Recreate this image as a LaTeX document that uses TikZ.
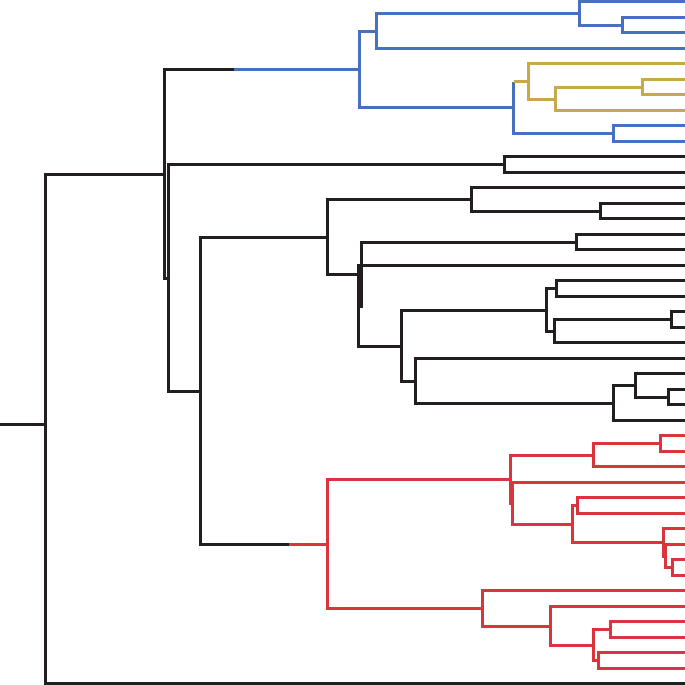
\documentclass[tikz,border=0pt]{standalone}
\usepackage{tikz}
\usetikzlibrary{calc}

\definecolor{treeblack}{RGB}{35,31,32}
\definecolor{treeblue}{RGB}{72,112,192}
\definecolor{treegold}{RGB}{200,168,76}
\definecolor{treered}{RGB}{218,52,60}

\begin{document}
\begin{tikzpicture}[x=1pt, y=-1pt, branch/.style={line width=3pt},
    blk/.style={draw=treeblack}, blu/.style={draw=treeblue},
    gld/.style={draw=treegold}, rd/.style={draw=treered}]
    \useasboundingbox (0,0) rectangle (685,685);
    % tips
    \foreach \i in {1,...,45}
        \coordinate (l\i) at (685,{floor(1.5+(\i-1)*15.5)+0.5});
    % blue and gold clades
    \foreach \cl/\px/\a/\b/\s in {B/622/l2/l3/blu, A/579/l1/B/blu, C/376/A/l4/blu,
        F/613/l9/l10/blu, G1/642/l6/l7/gld, G2/555/G1/l8/gld, G3/528/l5/G2/gld}
    {
        \path let \p1 = ($(\a)!0.5!(\b)$), \n1 = {-round(-\y1-0.5)-0.5}, \n2 = {\px+0.5}
            in coordinate (\cl) at (\n2 pt,\n1);
        \draw[branch,\s] (\cl) |- (\a) (\cl) |- (\b);
    }
    \path let \p1 = ($(G3)!0.5!(F)$), \n1 = {-round(-\y1-0.5)-0.5} in coordinate (E) at (513.5pt,\n1);
    \path let \p1 = (G3) in coordinate (Gcut) at (513.5pt,\y1);
    \draw[branch,blu] (E) -- (Gcut) (E) |- (F);
    \draw[branch,gld] (Gcut) -- (G3);
    % remaining clades
    \foreach \cl/\px/\a/\b/\s in {D/359/C/E/blu,
        H/504/l11/l12/blk, J/600/l14/l15/blk, I/471/l13/J/blk, M/576/l16/l17/blk,
        P1/556/l19/l20/blk, P3/671/l21/l22/blk, P2/554/P3/l23/blk, P/546/P1/P2/blk,
        U/668/l26/l27/blk, T/635/l25/U/blk, S/613/T/l28/blk, R/415/l24/S/blk,
        N/401/P/R/blk, L2/358/l18/N/blk, L/361/M/L2/blk, K/327/I/L/blk,
        Zd/660/l29/l30/rd, Zb/593/Zd/l31/rd, Ze/577/l33/l34/rd, Zg/672/l37/l38/rd,
        Zf2/665/l36/Zg/rd, Zf/663/l35/Zf2/rd, Zc/572/Ze/Zf/rd, Z1a/512/l32/Zc/rd,
        Z1/510/Zb/Z1a/rd, Zj/610/l41/l42/rd, Zk/598/l43/l44/rd, Zi/593/Zj/Zk/rd,
        Zh/550/l40/Zi/rd, Z2/482/l39/Zh/rd, Z/327/Z1/Z2/rd}
    {
        \path let \p1 = ($(\a)!0.5!(\b)$), \n1 = {-round(-\y1-0.5)-0.5}, \n2 = {\px+0.5}
            in coordinate (\cl) at (\n2 pt,\n1);
        \draw[branch,\s] (\cl) |- (\a) (\cl) |- (\b);
    }
    % backbone
    \path let \p1 = ($(K)!0.5!(Z)$), \n1 = {-round(-\y1-0.5)-0.5} in coordinate (Y) at (200.5pt,\n1);
    \path let \p1 = (Z) in coordinate (Zcut) at (288.5pt,\y1);
    \draw[branch,blk] (Y) |- (K) (Y) |- (Zcut);
    \draw[branch,rd] (Zcut) -- (Z);
    \path let \p1 = ($(H)!0.5!(Y)$), \n1 = {-round(-\y1-0.5)-0.5} in coordinate (X1) at (168.5pt,\n1);
    \draw[branch,blk] (X1) |- (H) (X1) |- (Y);
    \path let \p1 = ($(D)!0.5!(X1)$), \n1 = {-round(-\y1-0.5)-0.5} in coordinate (X0) at (164.5pt,\n1);
    \path let \p1 = (D) in coordinate (Dcut) at (233.5pt,\y1);
    \draw[branch,blk] (X0) |- (Dcut) (X0) |- (X1);
    \draw[branch,blu] (Dcut) -- (D);
    \coordinate (root) at (45.5,424.5);
    \coordinate (stem) at (0,424.5);
    \draw[branch,blk] (stem) -- (root) (root) |- (X0) (root) |- (l45);
\end{tikzpicture}
\end{document}
